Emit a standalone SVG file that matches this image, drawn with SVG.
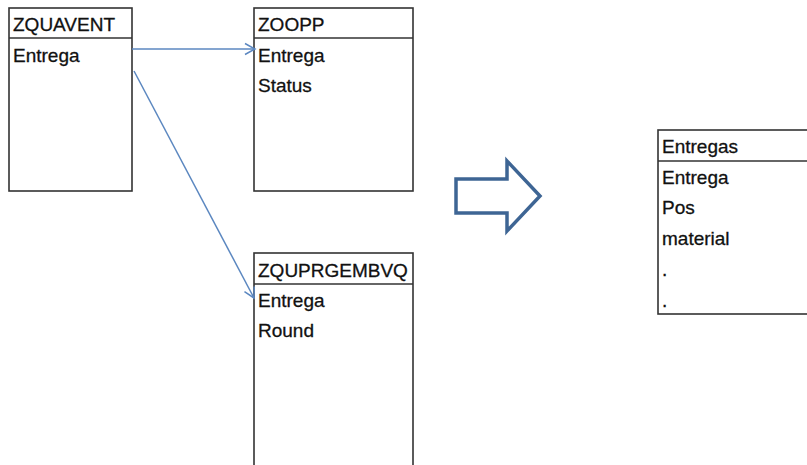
<svg xmlns="http://www.w3.org/2000/svg" width="807" height="465" viewBox="0 0 807 465">
  <style>
    .box { fill: #ffffff; stroke: #333333; stroke-width: 1.6; }
    .sep { stroke: #333333; stroke-width: 1.6; }
    .txt { font-family: "Liberation Sans", Arial, sans-serif; font-size: 19px; fill: #111111; stroke: #111111; stroke-width: 0.3; }
    .link { fill: none; stroke: #5b87c0; stroke-width: 1.5; }
    .big-arrow { fill: #ffffff; stroke: #3e6594; stroke-width: 3.5; stroke-linejoin: miter; }
  </style>
  <defs>
    <marker id="open-head" markerUnits="userSpaceOnUse" markerWidth="14" markerHeight="14" refX="12" refY="7" orient="auto">
      <path d="M2,1.5 L12,7 L2,12.5" fill="none" stroke="#5b87c0" stroke-width="1.5"/>
    </marker>
  </defs>

  <rect width="807" height="465" fill="#ffffff"/>

  <!-- source tables -->
  <g id="zquavent">
    <rect class="box" x="9" y="8" width="123" height="183"/>
    <line class="sep" x1="9" y1="38" x2="132" y2="38"/>
    <text class="txt" x="13" y="31">ZQUAVENT</text>
    <text class="txt" x="13" y="62">Entrega</text>
  </g>

  <g id="zoopp">
    <rect class="box" x="254" y="8" width="159" height="183"/>
    <line class="sep" x1="254" y1="38" x2="413" y2="38"/>
    <text class="txt" x="258" y="31">ZOOPP</text>
    <text class="txt" x="258" y="62">Entrega</text>
    <text class="txt" x="258" y="92">Status</text>
  </g>

  <g id="zquprgembvq">
    <rect class="box" x="254" y="253" width="159" height="220"/>
    <line class="sep" x1="254" y1="284" x2="413" y2="284"/>
    <text class="txt" x="258" y="277">ZQUPRGEMBVQ</text>
    <text class="txt" x="258" y="307">Entrega</text>
    <text class="txt" x="258" y="337">Round</text>
  </g>

  <!-- result table -->
  <g id="entregas">
    <rect class="box" x="658" y="130" width="160" height="184"/>
    <line class="sep" x1="658" y1="161" x2="818" y2="161"/>
    <text class="txt" x="662" y="153">Entregas</text>
    <text class="txt" x="662" y="184">Entrega</text>
    <text class="txt" x="662" y="214">Pos</text>
    <text class="txt" x="662" y="245">material</text>
    <text class="txt" x="662" y="276">.</text>
    <text class="txt" x="662" y="307">.</text>
  </g>

  <!-- block arrow between the source tables and the result -->
  <g id="transform">
    <path class="big-arrow" d="M456,179 L507,179 L507,161 L540,196 L507,231 L507,213 L456,213 Z"/>
  </g>

  <g id="connectors">
    <line class="link" x1="132" y1="49" x2="255" y2="49" marker-end="url(#open-head)"/>
    <line class="link" x1="134" y1="71" x2="254" y2="298" marker-end="url(#open-head)"/>
  </g>
</svg>
